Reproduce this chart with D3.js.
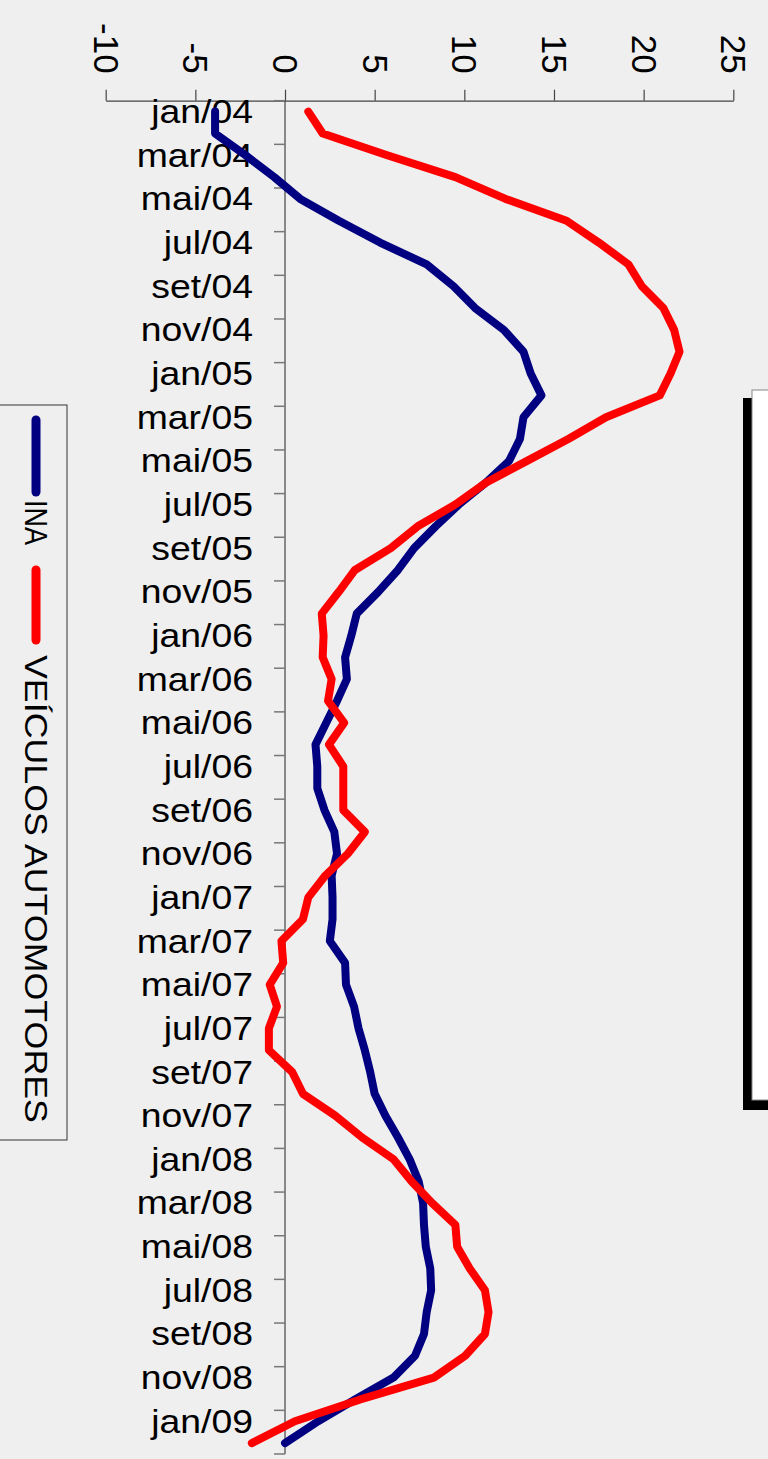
<!DOCTYPE html>
<html>
<head>
<meta charset="utf-8">
<script src="https://cdn.jsdelivr.net/npm/d3@7"></script>
<style>
  html, body { margin: 0; padding: 0; background: #efefef; overflow: hidden; }
  svg { display: block; font-family: "Liberation Sans", Arial, Helvetica, sans-serif; }
</style>
</head>
<body>
<svg id="chart" width="768" height="1459"></svg>
<script>
// ---- data ----
const categories = [
  "jan/04","fev/04","mar/04","abr/04","mai/04","jun/04","jul/04","ago/04","set/04","out/04","nov/04","dez/04",
  "jan/05","fev/05","mar/05","abr/05","mai/05","jun/05","jul/05","ago/05","set/05","out/05","nov/05","dez/05",
  "jan/06","fev/06","mar/06","abr/06","mai/06","jun/06","jul/06","ago/06","set/06","out/06","nov/06","dez/06",
  "jan/07","fev/07","mar/07","abr/07","mai/07","jun/07","jul/07","ago/07","set/07","out/07","nov/07","dez/07",
  "jan/08","fev/08","mar/08","abr/08","mai/08","jun/08","jul/08","ago/08","set/08","out/08","nov/08","dez/08",
  "jan/09","fev/09"
];
const ina = [
  -3.9, -3.9, -2.2, -0.6, 0.85, 3.0, 5.3, 7.9, 9.4, 10.6, 12.2, 13.3,
  13.7, 14.3, 13.3, 13.1, 12.5, 11.2, 9.7, 8.4, 7.2, 6.3, 5.2, 4.0,
  3.7, 3.35, 3.45, 2.9, 2.3, 1.7, 1.8, 1.8, 2.2, 2.75, 2.9, 2.6,
  2.65, 2.65, 2.5, 3.35, 3.4, 3.85, 4.1, 4.45, 4.75, 5.0, 5.6, 6.3,
  6.95, 7.45, 7.7, 7.75, 7.85, 8.1, 8.15, 7.9, 7.75, 7.25, 6.05, 3.9,
  1.85, 0.0
];
const veiculos = [
  1.3, 2.1, 5.7, 9.5, 12.3, 15.7, 17.5, 19.15, 19.9, 21.1, 21.7, 22.0,
  21.5, 20.9, 17.9, 15.8, 13.5, 11.2, 9.5, 7.4, 5.9, 3.9, 3.0, 2.05,
  2.15, 2.1, 2.6, 2.4, 3.3, 2.45, 3.25, 3.25, 3.25, 4.45, 3.5, 2.25,
  1.3, 1.0, -0.2, -0.1, -0.85, -0.45, -0.9, -0.9, 0.4, 1.0, 2.8, 4.3,
  6.05, 7.05, 8.2, 9.5, 9.6, 10.3, 11.15, 11.35, 11.15, 10.05, 8.3, 4.2,
  0.55, -1.85
];
const valueTicks = [-10, -5, 0, 5, 10, 15, 20, 25];
const valueTickLabels = ["-10", "-5", "0", "5", "10", "15", "20", "25"];
const seriesNames = ["INA", "VEÍCULOS AUTOMOTORES"];
const seriesColors = ["#000080", "#ff0000"];

// ---- layout ----
const svg = d3.select("#chart");
svg.append("rect").attr("x", 0).attr("y", 0).attr("width", 768).attr("height", 1459).attr("fill", "#efefef");

const x = d3.scaleLinear().domain([-10, 25]).range([105.7, 733.3]);
const y = d3.scaleBand().domain(categories).range([100.7, 1454]).paddingInner(0).paddingOuter(0);
const bw = y.bandwidth();
const cy = c => y(c) + bw / 2;

// right decorative box with shadow
svg.append("rect").attr("x", 743).attr("y", 398).attr("width", 40).attr("height", 712).attr("fill", "#000");
svg.append("rect").attr("x", 752).attr("y", 390).attr("width", 30).attr("height", 710)
  .attr("fill", "#fff").attr("stroke", "#888").attr("stroke-width", 1);

// value axis (top, rotated labels)
const gx = svg.append("g").attr("transform", "translate(0,100.7)")
  .call(d3.axisTop(x).tickValues(valueTicks).tickSize(11).tickSizeOuter(0)
    .tickFormat((d, i) => valueTickLabels[i]));
gx.select(".domain").attr("stroke", "#444").attr("stroke-width", 1.2);
gx.selectAll(".tick line").attr("stroke", "#444").attr("stroke-width", 1.2);
gx.selectAll(".tick text")
  .attr("font-size", 35)
  .attr("fill", "#000")
  .attr("text-anchor", "end")
  .attr("x", 0).attr("y", 0).attr("dy", "0.36em")
  .attr("transform", "translate(0,-27) rotate(90)");

// category axis (left)
const gy = svg.append("g");
gy.append("line").attr("x1", x(0)).attr("x2", x(0)).attr("y1", 100.7).attr("y2", 1454)
  .attr("stroke", "#444").attr("stroke-width", 1.2);
const tickIdx = d3.range(0, categories.length + 1, 2);
gy.selectAll("line.ct").data(tickIdx).enter().append("line").attr("class", "ct")
  .attr("x1", x(0) - 11).attr("x2", x(0))
  .attr("y1", i => 100.7 + i * bw).attr("y2", i => 100.7 + i * bw)
  .attr("stroke", "#777").attr("stroke-width", 1.5);
const labelCats = categories.filter((c, i) => i % 2 === 0);
gy.selectAll("text.cl").data(labelCats).enter().append("text").attr("class", "cl")
  .attr("transform", c => `translate(253,${cy(c) + 11.5}) scale(1.15,1)`)
  .attr("text-anchor", "end")
  .attr("font-size", 32.5)
  .attr("fill", "#000")
  .text(c => c);

// lines
const series = [ina, veiculos];
const line = d3.line().x(d => x(d.v)).y(d => cy(d.c));
series.forEach((vals, si) => {
  svg.append("path")
    .datum(vals.map((v, i) => ({ v, c: categories[i] })))
    .attr("d", line)
    .attr("fill", "none")
    .attr("stroke", seriesColors[si])
    .attr("stroke-width", 8)
    .attr("stroke-linejoin", "round")
    .attr("stroke-linecap", "round");
});

// legend (rotated)
const lg = svg.append("g");
lg.append("rect").attr("x", -2).attr("y", 405).attr("width", 69).attr("height", 735)
  .attr("fill", "none").attr("stroke", "#333").attr("stroke-width", 1);
const legendItems = [
  { y0: 420, y1: 492, ty: 500, len: 45 },
  { y0: 570, y1: 640, ty: 655, len: 468 }
];
legendItems.forEach((it, i) => {
  lg.append("line").attr("x1", 36).attr("x2", 36).attr("y1", it.y0).attr("y2", it.y1)
    .attr("stroke", seriesColors[i]).attr("stroke-width", 9).attr("stroke-linecap", "round");
  lg.append("text")
    .attr("transform", `translate(36,${it.ty}) rotate(90)`)
    .attr("dy", "0.36em")
    .attr("font-size", 31)
    .attr("fill", "#000")
    .attr("textLength", it.len)
    .attr("lengthAdjust", "spacingAndGlyphs")
    .text(seriesNames[i]);
});
</script>
</body>
</html>
